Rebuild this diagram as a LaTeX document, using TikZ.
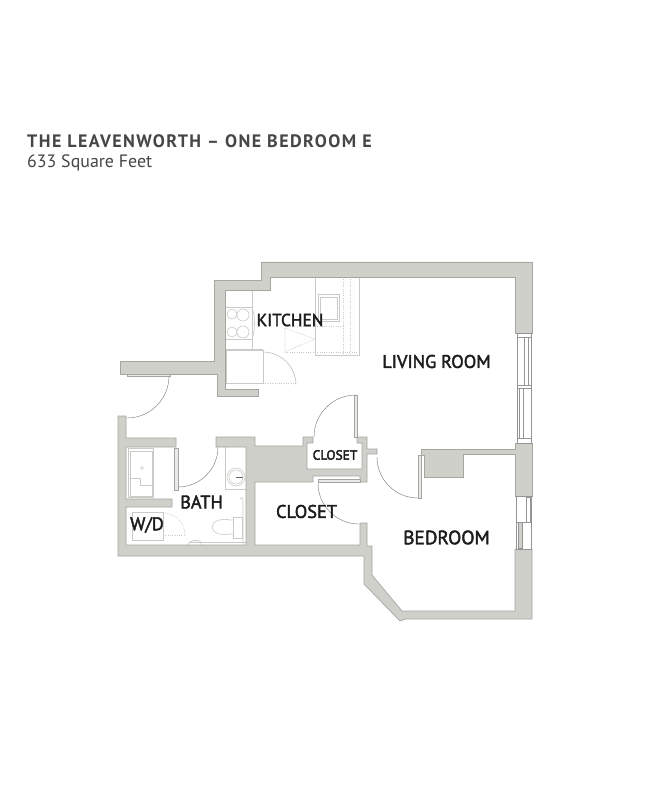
\documentclass[tikz,border=0pt]{standalone}
\usepackage{fontspec}
\setmainfont{PT Sans}
\newfontfamily\titlefont[LetterSpace=8]{PT Sans}
\newcommand{\heavy}[1]{\special{pdf:code 2 Tr 0.4 w}#1\special{pdf:code 0 Tr}}
\definecolor{wallfill}{HTML}{D0D0CB}
\definecolor{wallline}{HTML}{A6A6A1}
\definecolor{fix}{HTML}{CACAC6}
\definecolor{txt}{HTML}{1C1C1C}
\definecolor{head}{HTML}{464646}
\tikzset{
 wall/.style={fill=wallfill,draw=wallline,line width=0.7pt,line join=miter},
 fixture/.style={draw=fix,line width=0.6pt},
 dotline/.style={draw=fix,line width=0.7pt,dash pattern=on 0.9pt off 1.4pt},
 swing/.style={draw=black!50,line width=0.45pt},
 leaf/.style={draw=wallline,fill=wallfill!45,line width=0.5pt},
 frame/.style={draw=black!42,line width=0.45pt},
 room/.style={font=\fontsize{18.3}{18}\selectfont,text=txt,inner sep=0pt},
 smallroom/.style={font=\fontsize{13.4}{14}\selectfont,text=txt,inner sep=0pt},
}
\begin{document}
\begin{tikzpicture}[x=1pt,y=-1pt]
\useasboundingbox[fill=white] (0,0) rectangle (657,791);
% titles
\node[anchor=base west,inner sep=0pt,text=head,font=\fontsize{18}{18}\selectfont\bfseries\titlefont] (title) at (27,148) {THE LEAVENWORTH – ONE BEDROOM E};
\node[anchor=base west,inner sep=0pt,text=head,font=\fontsize{17.9}{18}\selectfont] (subtitle) at (27,167.5) {633 Square Feet};
% kitchen fixtures
\draw[fixture] (252,290) -- (252,350);
\draw[fixture] (225,307) rectangle (252,339);
\draw[fixture] (232,314) circle (5) (243,315) circle (6) (232,332) circle (5) (243,332) circle (6);
\draw[fixture] (253,310) .. controls (255,318) and (255,328) .. (253,336);
\draw[fixture] (315,277) -- (315,355) -- (359,355) -- (359,277);
\draw[fixture] (318,294) rectangle (339,321);
\draw[fixture] (320,297) rectangle (337,319);
\draw[dotline] (343,277) -- (343,355) (350,277) -- (350,355);
\draw[dotline] (285,326) -- (343,326);
\draw[dotline] (285,328) -- (315,339) -- (285,352) -- cycle;
\draw[dotline] (285,352) -- (359,352);
\draw[fixture] (226,350) rectangle (263,383);
\draw[fixture] (226,349) -- (263,349);
\draw[dotline] (263,383) -- (297,383);
\draw[swing,black!30] (263,352) arc[start angle=-90,end angle=0,radius=33];
% bath fixtures
\draw[fixture] (128,448) rectangle (153,497);
\draw[fixture] (130,451) rectangle (152,496);
\draw[fixture] (130,478) -- (140,478) -- (140,485) -- (152,485);
\draw[fixture] (142,468) circle (1.5);
\draw[fixture] (225,447) -- (225,489) -- (246,489);
\draw[fixture] (236,477) circle (9) (236,477) circle (7);
\draw[black!60,line width=0.7pt] (236,477) -- (243,477);
\draw[fixture] (240,499) .. controls (243,495) and (243,500) .. (243,505) -- (243,545);
\draw[fixture] (233,517) rectangle (242,538);
\draw[fixture] (233,520) -- (230,520) .. controls (222,518) and (212,521) .. (212,527) .. controls (212,533) and (222,536) .. (230,534) -- (233,534);
\draw[fixture] (132,512) rectangle (163,540);
\draw[dotline] (163,513) arc[start angle=-90,end angle=0,radius=22];
\draw[dotline] (163,535) -- (185,535);
\draw[fixture] (190,542) -- (246,542);
\draw[fixture] (187,545) .. controls (190,540) and (197,539) .. (201,542) -- (201,545);
% walls
\draw[wall] (532,333) -- (532,262) -- (261,262) -- (261,280) -- (214,280) -- (214,361) -- (120,361) -- (120,374) -- (217,374) -- (217,396) -- (258,396) -- (258,389) -- (225,389) -- (225,290) -- (270,290) -- (270,277) -- (515,277) -- (515,333) -- cycle;
\draw[wall] (118,416) -- (126,416) -- (126,438) -- (176,438) -- (176,447) -- (126,447) -- (126,499) -- (172,499) -- (172,507) -- (126,507) -- (126,545) -- (246,545) -- (246,447) -- (216,447) -- (216,437) -- (255,437) -- (255,446) -- (303,446) -- (303,437) -- (313,437) -- (313,443) -- (307,443) -- (307,469) -- (362,469) -- (362,443) -- (357,443) -- (357,437) -- (367,437) -- (367,449) -- (377,449) -- (377,454) -- (367,454) -- (367,482) -- (360,482) -- (360,476) -- (313,476) -- (313,482) -- (255,482) -- (255,545) -- (360,545) -- (360,523) -- (367,523) -- (367,546) -- (372,546) -- (372,575) -- (402,611) -- (515,611) -- (515,549) -- (532,549) -- (532,619) -- (406,619) -- (400,621) -- (364,584) -- (364,556) -- (118,556) -- cycle;
\draw[wall] (532,496) -- (515,496) -- (515,454) -- (463,454) -- (463,477) -- (424,477) -- (424,455) -- (421,455) -- (421,449) -- (515,449) -- (515,443) -- (532,443) -- cycle;
% doors
\draw[leaf] (127,374) rectangle (170,376);
\draw[swing] (169,376) arc[start angle=0,end angle=90,radius=42];
\draw[leaf] (174,448) rectangle (178,490);
\draw[swing] (218,447) arc[start angle=0,end angle=90,radius=40];
\draw[leaf] (354,395) rectangle (357,437);
\draw[swing] (356,395) arc[start angle=-90,end angle=-180,radius=42];
\draw[leaf] (318,479) rectangle (360,482.5);
\draw[swing] (318,483) arc[start angle=180,end angle=90,radius=41];
\draw[leaf] (418,455) rectangle (421,498);
\draw[swing] (418,498) arc[start angle=90,end angle=180,radius=41];
% living room window
\draw[frame,fill=white] (517,333) rectangle (531,443);
\draw[frame] (517,337) -- (531,337) (517,385) -- (531,385) (517,388) -- (531,388) (517,438) -- (531,438);
\draw[frame] (524,337) rectangle (528,385);
\draw[frame] (519,388) rectangle (523,438);
% bedroom window
\draw[frame,fill=white] (516,496) rectangle (531,549);
\draw[frame] (526,497) rectangle (530,522);
\draw[frame,fill=wallfill] (518,522) rectangle (522,548);
\draw[frame] (516,522) -- (531,522);
% labels
\node[room,font=\fontsize{17.3}{18}\selectfont] (kitchen) at (290,320) {\heavy{KITCHEN}};
\node[room] (living) at (436.5,361.5) {\heavy{LIVING ROOM}};
\node[room] (bath) at (201.5,502) {\heavy{BATH}};
\node[room] (wd) at (147,525) {\heavy{W/D}};
\node[room] (closetb) at (306.5,511.5) {\heavy{CLOSET}};
\node[room,font=\fontsize{19.3}{18}\selectfont] (bedroom) at (446.5,537.5) {\heavy{BEDROOM}};
\node[smallroom] (closeta) at (335,455) {\heavy{CLOSET}};
\end{tikzpicture}
\end{document}
